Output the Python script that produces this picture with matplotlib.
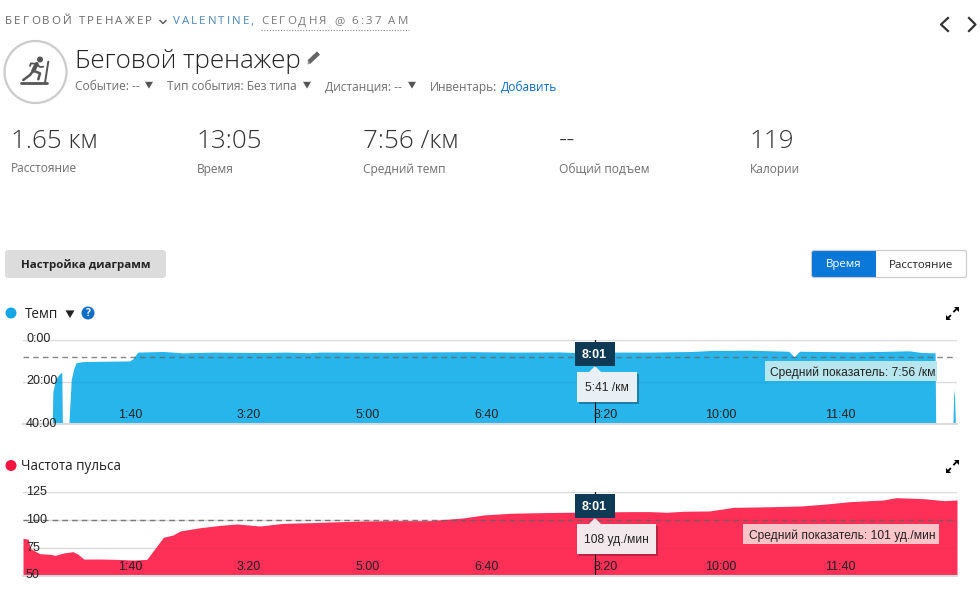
import matplotlib
matplotlib.use("Agg")
import matplotlib.pyplot as plt
from matplotlib.patches import Rectangle, Circle, FancyBboxPatch, Polygon
from matplotlib.transforms import ScaledTranslation

# --- данные ---
pace_t = [25, 25.5, 27, 29, 31, 33, 33.5, 38, 39, 41, 43, 45, 50.7, 90, 92.7, 97, 118, 135, 160, 199, 221, 241,
          250, 258, 308, 342, 376, 415, 451, 464, 481, 497, 527, 563, 580, 611, 644, 648.5, 653, 700, 728,
          745, 756, 767, 767.5, 781.5, 782, 782.6, 783, 783.4, 784]
pace_min = [40, 25, 21, 18, 16.5, 15.6, 40, None, 40, 19, 14, 11.1, 10.5, 10.2, 9.2, 6.0, 5.7, 6.35, 6.0, 6.2, 6.0,
            6.3, 6.0, 6.0, 6.1, 5.9, 5.8, 6.0, 5.9, 6.2, 5.68, 6.0, 6.0, 5.7, 5.2, 5.1, 5.6, 8.25, 5.6, 5.9,
            5.6, 5.4, 6.2, 6.35, 40, None, 40, 27, 23.8, 27, 40]
pace_labels = ["0:00", "20:00", "40:00"]
pace_ticks = [0, 20, 40]
avg_pace = 7 + 56 / 60

hr_t = [0, 4.5, 6, 14, 23, 27, 34, 42, 46, 51, 65, 79, 93, 104, 110, 118, 126, 132, 149, 166, 180, 199, 219,
        242, 258, 286, 314, 342, 370, 387, 409, 437, 481, 510, 527, 541, 555, 577, 597, 625, 653, 675,
        695, 723, 734, 757, 774, 785]
hr_bpm = [83.8, 82.9, 74.8, 70, 69.4, 68.5, 70.6, 71.8, 69.7, 65.2, 65.2, 64.9, 64.3, 64.9, 73.3, 84.7, 86.7,
          90.3, 93.3, 95.4, 96.6, 94.8, 97.2, 97.8, 98.4, 99.3, 99.6, 99.6, 102, 104.7, 106.2, 106.8, 107.4,
          107.7, 107.7, 107.1, 108, 108.3, 111.5, 112, 112.7, 114.5, 116.6, 118.1, 120.2, 119.3, 117.5, 118.1]
hr_labels = ["50", "75", "100", "125"]
hr_ticks = [50, 75, 100, 125]
avg_hr = 100.4

time_ticks = [100, 200, 300, 400, 500, 600, 700]
time_labels = ["1:40", "3:20", "5:00", "6:40", "8:20", "10:00", "11:40"]
cursor_t = 481
total_t = 785

stats_values = ["1.65 км", "13:05", "7:56 /км", "--", "119"]
stats_names = ["Расстояние", "Время", "Средний темп", "Общий подъем", "Калории"]
stats_x = [11, 197, 363, 559, 750]

W, H = 980, 606
BLUE = "#27b5ec"
RED = "#fe3058"
DARK = "#0f3a56"
GRAY = "#6f6f6f"
SANS = "Open Sans"
ARIAL = "Liberation Sans"

plt.rcParams["font.family"] = [SANS, "DejaVu Sans"]
fig = plt.figure(figsize=(W / 100, H / 100), dpi=100, facecolor="white")


def px(v):
    return v * 0.72


def chart_axes(top, bottom):
    return fig.add_axes([23 / W, 1 - bottom / H, 934 / W, (bottom - top) / H])


def setup_chart(ax, yticks, ylabels):
    ax.set_xlim(0, total_t)
    for s in ["top", "left", "right"]:
        ax.spines[s].set_visible(False)
    ax.spines["bottom"].set_color("#dcdcdc")
    ax.spines["bottom"].set_linewidth(1.5)
    ax.set_axisbelow(False)
    # светлая сетка под заливкой, над заливкой еле видна
    for v in yticks:
        ax.axhline(v, color="#e4e4e4", lw=1, zorder=0)
    ax.grid(axis="y", color="black", alpha=0.04, lw=1)
    ax.set_xticks(time_ticks, time_labels, fontfamily=ARIAL, fontsize=px(12.5), color="#222222", ha="right")
    ax.set_yticks(yticks, ylabels, fontfamily=ARIAL, fontsize=px(12.5), color="#222222", ha="left")
    ax.tick_params(axis="x", length=0, pad=-px(15))
    ax.tick_params(axis="y", length=0, pad=-px(3))
    up = ScaledTranslation(0, 2 / 100, fig.dpi_scale_trans)
    for lab in ax.get_yticklabels():
        lab.set_transform(lab.get_transform() + up)


# темп
ax1 = chart_axes(340, 424)
ax1.set_ylim(40, 0)
y1 = [float("nan") if v is None else v for v in pace_min]
ax1.fill_between(pace_t, y1, 40, color=BLUE, lw=0)
ax1.axhline(avg_pace, color="#666666", lw=1, ls=(0, (4, 3)), alpha=0.8)
ax1.axvline(cursor_t, color="black", lw=0.8)
setup_chart(ax1, pace_ticks, pace_labels)
ax1.plot([0, 33.5], [40, 40], color=BLUE, lw=1.5, clip_on=False)
ax1.set_zorder(2)

# пульс
ax2 = chart_axes(492.3, 576)
ax2.set_ylim(50, 125)
ax2.fill_between(hr_t, hr_bpm, 50, color=RED, lw=0)
ax2.axhline(avg_hr, color="#666666", lw=1, ls=(0, (4, 3)), alpha=0.8)
ax2.axvline(cursor_t, color="black", lw=0.8)
setup_chart(ax2, hr_ticks, hr_labels)
ax2.set_zorder(2)

# оформление страницы поверх графиков, координаты в пикселях
page = fig.add_axes([0, 0, 1, 1], zorder=5)
page.set_xlim(0, W)
page.set_ylim(H, 0)
page.axis("off")


def label(x, y, s, size=12, color=GRAY, family=SANS, ha="left", **kw):
    return page.text(x, y, s, fontsize=px(size), color=color, family=[family, "DejaVu Sans"],
                     ha=ha, va="center", **kw)


def spaced(x0, x1, y, s, size, color):
    # разрядка букв: ставим символы по одному, чтобы занять ширину от x0 до x1
    r = fig.canvas.get_renderer()
    widths = []
    for ch in s:
        t = label(0, 0, ch if ch != " " else "i", size=size)
        widths.append(t.get_window_extent(r).width)
        t.remove()
    gap = (x1 - x0 - sum(widths)) / (len(s) - 1)
    x = x0
    for ch, w in zip(s, widths):
        if ch != " ":
            label(x, y, ch, size=size, color=color)
        x += w + gap


def triangle(x, y, color="#555555", size=4):
    page.add_patch(Polygon([[x - size, y - size * 0.8], [x + size, y - size * 0.8], [x, y + size * 0.9]],
                           closed=True, color=color, lw=0))


# шапка
spaced(5, 152, 22, "БЕГОВОЙ ТРЕНАЖЕР", 11.5, "#666666")
page.plot([160, 163, 166], [20.5, 23.5, 20.5], color="#555555", lw=1)
spaced(173, 254, 22, "VALENTINE,", 11.5, "#4a86b8")
spaced(261, 408, 22, "СЕГОДНЯ @ 6:37 AM", 11.5, "#777777")
page.plot([261, 409], [30, 30], color="#888888", lw=0.8, ls=(0, (1, 1.5)))

page.plot([948, 941, 948], [18, 24.5, 31], color="#333333", lw=1.6)
page.plot([969, 975.5, 969], [18, 24.5, 31], color="#333333", lw=1.6)

# значок
page.add_patch(Circle((35.5, 72), 31, fc="white", ec="#cccccc", lw=1.6))
page.add_patch(Circle((40, 59.5), 3, color="#555555", lw=0))
for xs, ys, w in [([21, 46.5], [82.7, 82.7], 2), ([48.3, 45], [61.7, 82.7], 1.4),
                  ([36.7, 33.3], [64, 70.7], 3), ([33.3, 40, 38.3], [70.7, 73.3, 79.3], 1.8),
                  ([33.3, 30, 23.3], [70.7, 75, 80], 1.8), ([36.7, 40, 43.3], [64, 67, 66.7], 1.3),
                  ([36.7, 31, 30], [64, 63.3, 66], 1.3)]:
    page.plot(xs, ys, color="#555555", lw=w, solid_capstyle="round")

label(75, 62, "Беговой тренажер", size=26, color="#222222", fontweight="light")
page.plot([309, 318.5], [62, 53], color="#666666", lw=3.2, solid_capstyle="butt")
page.add_patch(Polygon([[307.5, 64.5], [308, 60.5], [311, 63.5]], closed=True, fc="#999999", ec="none"))

label(75, 87, "Событие: --")
triangle(149, 85)
label(167, 87, "Тип события: Без типа")
triangle(307, 85)
label(325, 87, "Дистанция: --")
triangle(412, 85)
label(430, 87, "Инвентарь:")
label(501, 87, "Добавить", color="#0f6fc6")

for x, v, n in zip(stats_x, stats_values, stats_names):
    label(x, 141, v, size=26, color="#333333", fontweight="light")
    label(x, 169, n)

# кнопки
page.add_patch(FancyBboxPatch((8, 253), 155, 22, boxstyle="round,pad=3", fc="#dcdcdc", ec="none"))
label(85.5, 265, "Настройка диаграмм", size=11.5, color="#222222", ha="center", fontweight="bold")
page.add_patch(FancyBboxPatch((814, 253), 150, 22, boxstyle="round,pad=2.5", fc="white", ec="#cccccc", lw=0.9))
page.add_patch(FancyBboxPatch((814, 253), 60, 22, boxstyle="round,pad=2", fc="#0a78d8", ec="none"))
page.add_patch(Rectangle((860, 251), 16, 26, fc="#0a78d8", ec="none"))
label(844, 265, "Время", size=11.5, color="white", ha="center")
label(921, 265, "Расстояние", size=11.5, color="#222222", ha="center")

# заголовки графиков
page.add_patch(Circle((11, 313), 5.5, color="#13a7ea", lw=0))
label(25, 314.5, "Темп", size=13.5, color="#222222")
triangle(70, 314, color="#222222", size=4.5)
page.add_patch(Circle((88, 313), 6.5, color="#0f6fc6", lw=0))
label(88, 313.5, "?", size=10, color="white", ha="center", fontweight="bold")
page.add_patch(Circle((11, 465.5), 5.5, color="#f5163f", lw=0))
label(21, 466.5, "Частота пульса", size=13.5, color="#222222")

# значки развернуть
for y in [313, 466]:
    page.add_patch(Polygon([[953.5, y - 6], [958.5, y - 6], [958.5, y - 1]], closed=True, fc="black", ec="none"))
    page.plot([955.8, 954], [y - 3.3, y - 1.5], color="black", lw=1.3)
    page.add_patch(Polygon([[946, y + 2], [946, y + 7], [951, y + 7]], closed=True, fc="black", ec="none"))
    page.plot([948.5, 950.3], [y + 4.5, y + 2.7], color="black", lw=1.3)

# подсказки курсора
for box_top, tip_top, tip_bottom, tip_right, tip_color, tip_text, shadow in [
    (342, 372, 402, 637, "#e9f0f5", "5:41 /км", "#17526f"),
    (494, 524, 554, 656, "#f3e9ed", "108 уд./мин", "#8a1a38"),
]:
    page.add_patch(Rectangle((575, box_top), 39.5, 24, fc=DARK, ec="none"))
    label(594.5, box_top + 13.5, "8:01", size=12.5, color="white", family=ARIAL, ha="center", fontweight="bold")
    page.add_patch(Rectangle((578.5, tip_top + 1.5), tip_right - 577, tip_bottom - tip_top, fc=shadow, alpha=0.55, ec="none"))
    page.add_patch(Rectangle((577, tip_top), tip_right - 577, tip_bottom - tip_top, fc=tip_color, ec="none"))
    page.add_patch(Polygon([[589, tip_top], [595, box_top + 24], [601, tip_top]], closed=True, fc=tip_color, ec="none"))
    label((577 + tip_right) / 2, (tip_top + tip_bottom) / 2 + 1, tip_text, size=12, color="#222222",
          family=ARIAL, ha="center")

# средние значения
page.add_patch(Rectangle((765, 361), 172, 20, fc="#b7e6ee", ec="none"))
label(770, 372.5, "Средний показатель: 7:56 /км", size=12, color="#222222", family=ARIAL)
page.add_patch(Rectangle((743, 524), 196, 20, fc="#fbc4c8", ec="none"))
label(749, 535.5, "Средний показатель: 101 уд./мин", size=12, color="#222222", family=ARIAL)

fig.savefig("out.png", dpi=100)
